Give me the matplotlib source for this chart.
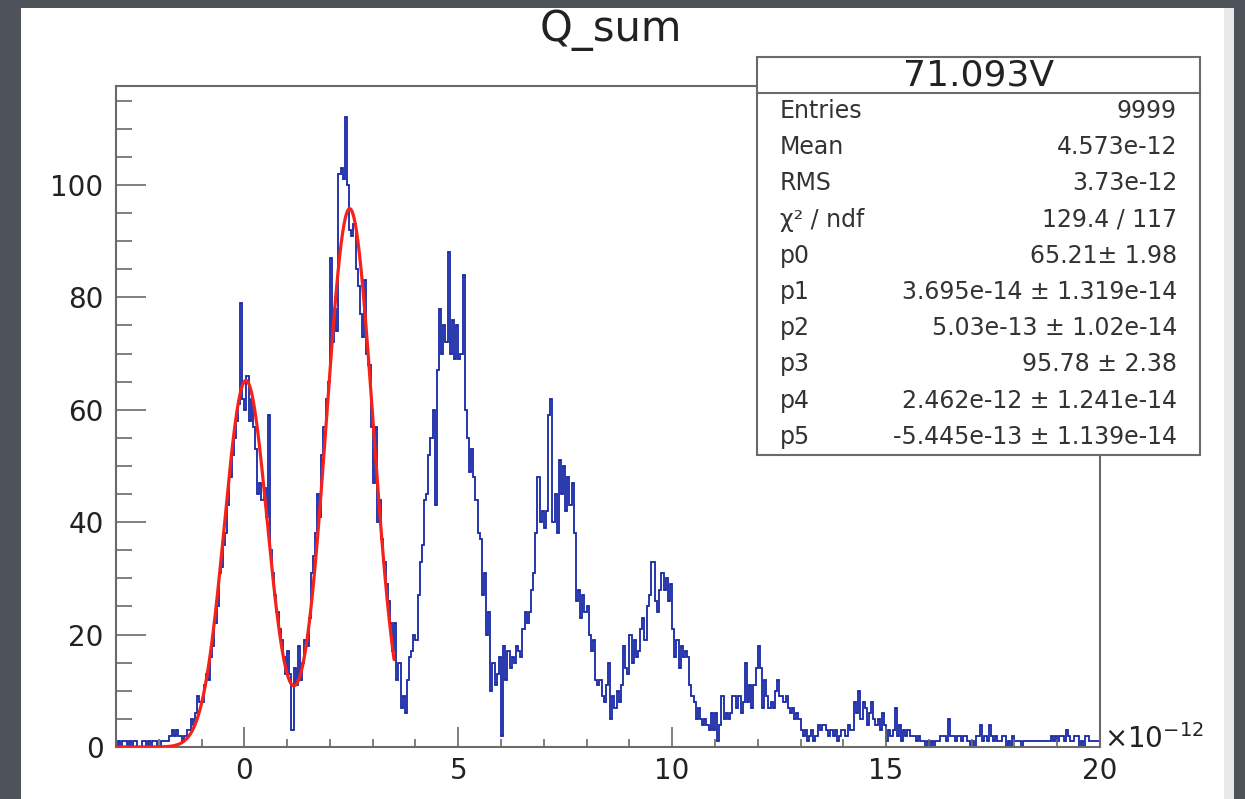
import numpy as np
import matplotlib
matplotlib.use("Agg")
import matplotlib.pyplot as plt
from matplotlib.patches import Rectangle
from matplotlib.lines import Line2D

# ---- histogram data (x in units of 1e-12, bin width 0.05) ----
x_low, x_high, n_bins = -3.0, 20.0, 460

counts_m3_0 = [
    0, 1, 0, 1, 1, 0, 1, 0, 1, 1, 0, 0, 1, 1, 0, 1, 0, 1, 1, 0,
    0, 1, 1, 1, 1, 2, 3, 2, 3, 2, 2, 1, 2, 3, 3, 5, 4, 6, 9, 8,
    8, 11, 13, 12, 16, 18, 22, 25, 31, 32, 36, 38, 43, 48, 52, 55, 58, 61, 79, 62,
]
counts_0_5 = [
    60, 66, 58, 62, 57, 53, 45, 47, 44, 46, 41, 59, 35, 31, 27, 24, 21, 19, 16, 13,
    17, 13, 3, 14, 11, 18, 12, 15, 19, 18, 23, 31, 34, 38, 45, 41, 52, 57, 62, 65,
    87, 72, 78, 74, 102, 103, 101, 112, 100, 92, 91, 93, 85, 82, 77, 73, 83, 70, 68, 57,
    47, 57, 40, 44, 37, 33, 29, 26, 22, 17, 22, 12, 15, 7, 9, 6, 12, 16, 17, 20,
    19, 27, 33, 36, 44, 45, 52, 55, 60, 43, 67, 78, 70, 75, 72, 88, 70, 76, 69, 75,
]
counts_5_10 = [
    69, 70, 84, 60, 55, 49, 53, 48, 44, 38, 37, 27, 31, 20, 24, 10, 15, 11, 13, 16,
    2, 18, 12, 17, 14, 16, 15, 18, 17, 16, 21, 24, 22, 24, 28, 31, 38, 48, 40, 42,
    39, 42, 59, 62, 40, 45, 38, 51, 45, 50, 42, 48, 43, 47, 38, 26, 28, 23, 27, 24,
    25, 20, 17, 19, 12, 11, 12, 9, 8, 11, 15, 5, 9, 7, 10, 8, 11, 18, 14, 13,
    20, 15, 19, 16, 17, 21, 23, 19, 25, 27, 33, 33, 26, 24, 28, 31, 28, 30, 26, 29,
]
counts_10_15 = [
    21, 16, 19, 14, 18, 16, 17, 16, 11, 9, 8, 5, 7, 5, 4, 5, 4, 3, 6, 3,
    6, 1, 4, 9, 5, 6, 5, 6, 9, 9, 7, 9, 6, 8, 15, 8, 11, 7, 11, 14,
    18, 14, 7, 12, 9, 7, 8, 7, 10, 12, 9, 9, 8, 9, 7, 6, 7, 5, 6, 5,
    3, 2, 3, 1, 2, 3, 1, 2, 4, 3, 4, 4, 3, 2, 3, 2, 3, 1, 2, 3,
    3, 2, 4, 3, 3, 8, 6, 10, 5, 8, 7, 4, 6, 8, 5, 4, 5, 3, 6, 4,
]
counts_15_20 = [
    1, 3, 2, 3, 7, 2, 4, 1, 3, 2, 3, 2, 2, 2, 1, 2, 1, 1, 0, 1,
    0, 1, 0, 1, 1, 2, 2, 2, 1, 5, 2, 2, 1, 2, 2, 1, 2, 2, 1, 0,
    1, 0, 2, 2, 4, 1, 2, 1, 4, 2, 1, 2, 1, 1, 2, 2, 0, 1, 0, 2,
    1, 1, 1, 0, 1, 1, 1, 1, 1, 1, 1, 1, 1, 1, 1, 1, 1, 2, 1, 2,
    1, 2, 2, 1, 3, 2, 1, 1, 2, 2, 0, 1, 0, 2, 2, 1, 1, 1, 1, 1,
]

# ---- double-gaussian fit parameters ----
p0, p1, p2 = 65.21, 3.695e-14, 5.03e-13
p3, p4, p5 = 95.78, 2.462e-12, -5.445e-13
fit_low, fit_high = -3.0, 3.5  # fit range, units of 1e-12
unit = 1e-12

# ---- statistics box text ----
box_title = "71.093V"
stat_labels = ["Entries", "Mean", "RMS", "\u03c7\u00b2 / ndf", "p0", "p1", "p2", "p3", "p4", "p5"]
stat_values = ["9999", "4.573e-12", "3.73e-12", "129.4 / 117", "65.21\u00b1 1.98",
               "3.695e-14 \u00b1 1.319e-14", "5.03e-13 \u00b1 1.02e-14", "95.78 \u00b1 2.38",
               "2.462e-12 \u00b1 1.241e-14", "-5.445e-13 \u00b1 1.139e-14"]

y_ticks = [0, 20, 40, 60, 80, 100]
x_ticks = [0, 5, 10, 15, 20]

# ---- figure ----
W, H, DPI = 1245, 799, 100
plt.rcParams['font.family'] = ['DejaVu Sans']
fig = plt.figure(figsize=(W / DPI, H / DPI), dpi=DPI)
fig.patch.set_facecolor('#4e535a')


def fx(px):
    return px / W


def fy(py):
    return 1 - py / H


# white canvas
fig.add_artist(Rectangle((fx(21), 0), fx(1224) - fx(21), fy(8), transform=fig.transFigure,
                         facecolor='white', edgecolor='none', zorder=0))
fig.add_artist(Rectangle((fx(1224), 0), fx(1234) - fx(1224), fy(8), transform=fig.transFigure,
                         facecolor='#e9e9e9', edgecolor='none', zorder=0))

ax = fig.add_axes([fx(116), fy(747), fx(1100) - fx(116), fy(86) - fy(747)])
ax.set_facecolor('white')

counts = np.array(counts_m3_0 + counts_0_5 + counts_5_10 + counts_10_15 + counts_15_20, dtype=float)
edges = np.linspace(x_low, x_high, n_bins + 1)
ax.stairs(counts, edges, color='#1628a6', lw=1.3, baseline=0)

xf = np.linspace(fit_low, fit_high, 600)
xs = xf * unit
yf = p0 * np.exp(-0.5 * ((xs - p1) / p2) ** 2) + p3 * np.exp(-0.5 * ((xs - p4) / p5) ** 2)
ax.plot(xf, yf, color='#f5221b', lw=2.3, solid_capstyle='round', zorder=3)

ax.set_xlim(x_low, x_high)
ax.set_ylim(0, 1.05 * counts.max())

for s in ax.spines.values():
    s.set_color('#6a6a6a')
    s.set_linewidth(1.5)

ax.set_yticks(y_ticks)
ax.set_yticks(np.arange(0, 120, 5), minor=True)
ax.set_xticks(x_ticks)
ax.set_xticks(np.arange(-3, 21, 1), minor=True)
ax.tick_params(axis='y', which='major', direction='in', length=21.5, width=1.2, color='#6a6a6a',
               labelsize=20, pad=9, labelcolor='#222222')
ax.tick_params(axis='y', which='minor', direction='in', length=11.5, width=1.2, color='#6a6a6a')
ax.tick_params(axis='x', which='major', direction='in', length=14.4, width=1.2, color='#6a6a6a',
               labelsize=20, pad=7, labelcolor='#222222')
ax.tick_params(axis='x', which='minor', direction='in', length=6, width=1.2, color='#6a6a6a')

# exponent label at the end of the x axis
fig.text(fx(1104), fy(748), r'$\times\mathregular{10^{-12}}$', fontsize=20, color='#222222',
         ha='left', va='baseline')

# title
fig.text(fx(611), fy(30), 'Q_sum', fontsize=30, color='#222222', ha='center', va='center')

# statistics box
bx0, by0, bx1, by1 = 757, 57, 1200, 455
fig.add_artist(Rectangle((fx(bx0), fy(by1)), fx(bx1) - fx(bx0), fy(by0) - fy(by1),
                         transform=fig.transFigure, facecolor='white', edgecolor='#6a6a6a',
                         lw=1.5, zorder=5))
fig.add_artist(Line2D([fx(bx0), fx(bx1)], [fy(93), fy(93)], transform=fig.transFigure,
                      color='#6a6a6a', lw=1.5, zorder=6))
fig.text(fx((bx0 + bx1) / 2), fy(75), box_title, fontsize=26, color='#222222',
         ha='center', va='center', zorder=7)
row_y0, row_dy = 111, 36.2
for i, (lab, val) in enumerate(zip(stat_labels, stat_values)):
    yy = fy(row_y0 + i * row_dy)
    fig.text(fx(780), yy, lab, fontsize=17, color='#333333', ha='left', va='center', zorder=7)
    fig.text(fx(1177), yy, val, fontsize=17, color='#333333', ha='right', va='center', zorder=7)

fig.savefig('out.png', dpi=DPI, facecolor=fig.get_facecolor())
